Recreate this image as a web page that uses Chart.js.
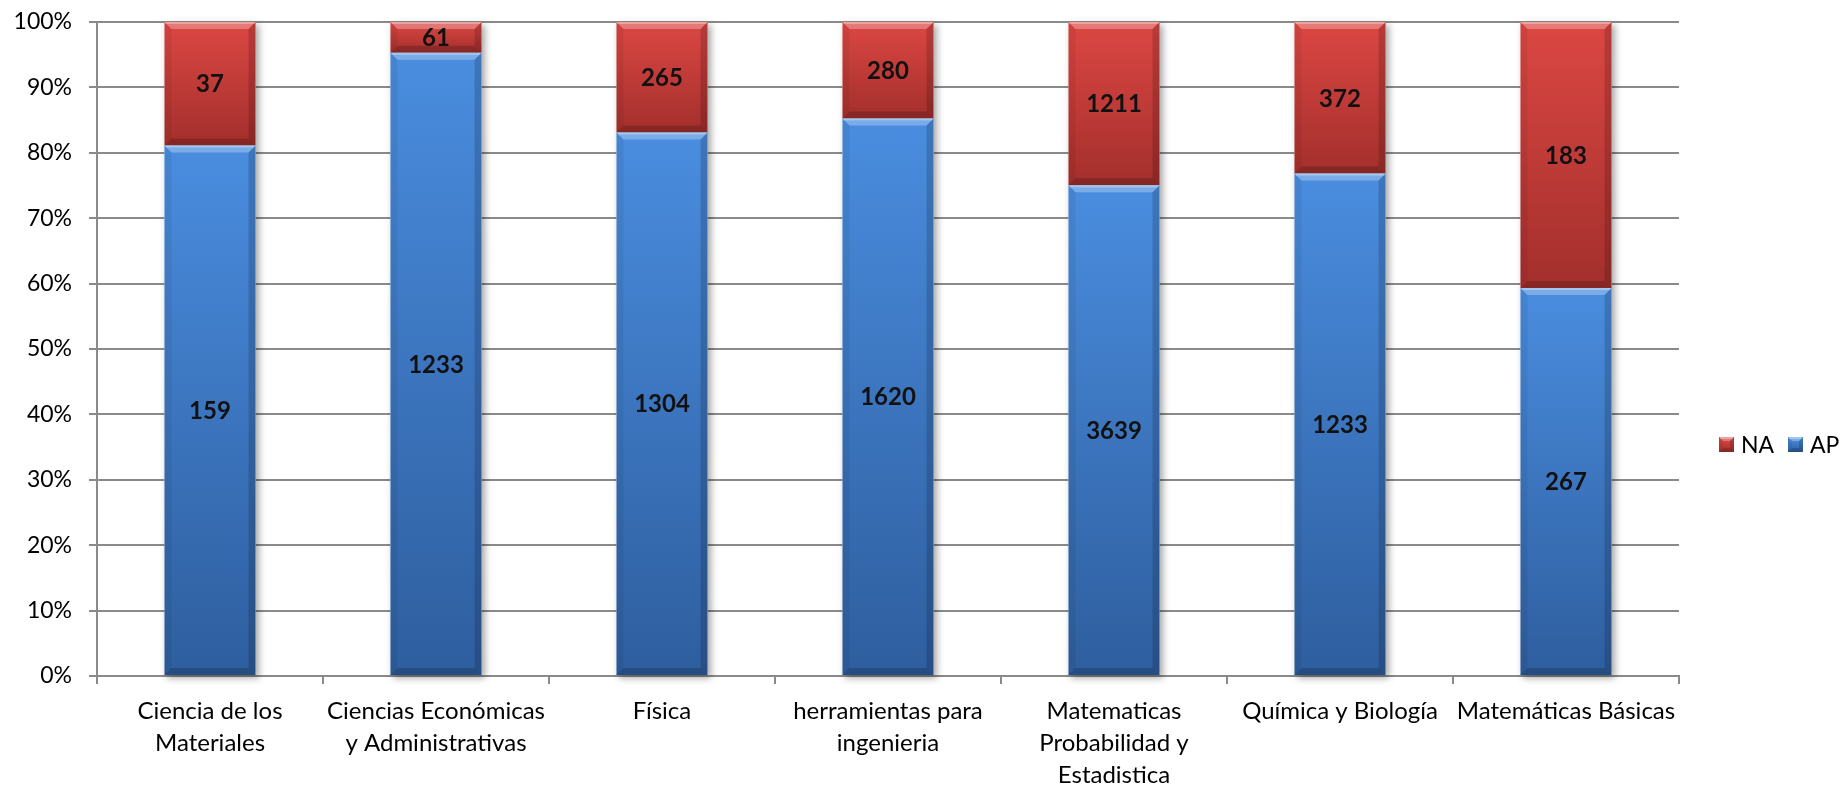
<!DOCTYPE html>
<html>
<head>
<meta charset="utf-8">
<script src="https://cdn.jsdelivr.net/npm/chart.js@4.4.1/dist/chart.umd.min.js"></script>
<style>
  body { margin: 0; background: #fff; }
  #wrap { width: 1843px; height: 787px; }
</style>
</head>
<body>
<div id="wrap"><canvas id="myChart"></canvas></div>
<script>
// categories (multi-line labels as in the original)
let categories = [
    ['Ciencia de los', 'Materiales'],
    ['Ciencias Económicas', 'y Administrativas'],
    ['Física'],
    ['herramientas para', 'ingenieria'],
    ['Matematicas', 'Probabilidad y', 'Estadistica'],
    ['Química y Biología'],
    ['Matemáticas Básicas']
];
// counts shown as labels
let ap_counts = [159, 1233, 1304, 1620, 3639, 1233, 267];
let na_counts = [37, 61, 265, 280, 1211, 372, 183];
let y_ticks = [0, 10, 20, 30, 40, 50, 60, 70, 80, 90, 100];

// stacked 100% -> share of each count
let ap_pct = ap_counts.map((v, i) => v / (v + na_counts[i]) * 100);
let na_pct = na_counts.map((v, i) => v / (ap_counts[i] + v) * 100);

const FONT = 'Lato, "Open Sans", sans-serif';

function segGradient(ctx, top, bottom) {
    let chart = ctx.chart;
    let y = chart.scales.y;
    if (!chart.chartArea || !y) return top;
    let dsi = ctx.datasetIndex, i = ctx.dataIndex;
    let start = dsi == 0 ? 0 : ap_pct[i];
    let end = dsi == 0 ? ap_pct[i] : 100;
    let y0 = y.getPixelForValue(end), y1 = y.getPixelForValue(start);
    if (!isFinite(y0) || !isFinite(y1) || y0 == y1) return top;
    let g = chart.ctx.createLinearGradient(0, y0, 0, y1);
    g.addColorStop(0, top);
    g.addColorStop(1, bottom);
    return g;
}

// shadow behind each stacked bar
const shadowPlugin = {
    id: 'shadowPlugin',
    beforeDatasetsDraw(chart) {
        let c = chart.ctx;
        let ap = chart.getDatasetMeta(0).data;
        let na = chart.getDatasetMeta(1).data;
        c.save();
        c.shadowColor = 'rgba(0,0,0,0.35)';
        c.shadowBlur = 7;
        c.shadowOffsetX = 3;
        c.shadowOffsetY = 3;
        c.fillStyle = '#ffffff';
        ap.forEach((el, i) => {
            let top = na[i].y, bottom = el.base;
            c.fillRect(el.x - el.width / 2, top, el.width, bottom - top);
        });
        c.restore();
    }
};

function bevel(c, left, top, right, bottom, b) {
    c.fillStyle = 'rgba(255,255,255,0.28)';
    c.beginPath();
    c.moveTo(left, top); c.lineTo(right, top); c.lineTo(right - b, top + b); c.lineTo(left + b, top + b);
    c.closePath(); c.fill();
    c.fillStyle = 'rgba(255,255,255,0.3)';
    c.fillRect(left + 1, top, right - left - 2, 2);
    c.fillStyle = 'rgba(0,0,0,0.06)';
    c.beginPath();
    c.moveTo(left, top); c.lineTo(left + b, top + b); c.lineTo(left + b, bottom - b); c.lineTo(left, bottom);
    c.closePath(); c.fill();
    c.fillStyle = 'rgba(0,0,0,0.16)';
    c.beginPath();
    c.moveTo(right, top); c.lineTo(right - b, top + b); c.lineTo(right - b, bottom - b); c.lineTo(right, bottom);
    c.closePath(); c.fill();
    c.fillStyle = 'rgba(0,0,0,0.18)';
    c.beginPath();
    c.moveTo(left, bottom); c.lineTo(left + b, bottom - b); c.lineTo(right - b, bottom - b); c.lineTo(right, bottom);
    c.closePath(); c.fill();
}

// bevel overlay, labels and legend
const decoPlugin = {
    id: 'decoPlugin',
    afterDatasetsDraw(chart) {
        let c = chart.ctx;
        c.save();
        [0, 1].forEach(d => {
            chart.getDatasetMeta(d).data.forEach(el => {
                let left = el.x - el.width / 2, right = el.x + el.width / 2;
                let top = Math.min(el.y, el.base), bottom = Math.max(el.y, el.base);
                bevel(c, left, top, right, bottom, 7);
            });
        });
        c.font = 'bold 24px ' + FONT;
        c.fillStyle = '#111';
        c.textAlign = 'center';
        c.textBaseline = 'middle';
        let counts = [ap_counts, na_counts];
        [0, 1].forEach(d => {
            chart.getDatasetMeta(d).data.forEach((el, i) => {
                c.fillText(counts[d][i], el.x, (el.y + el.base) / 2 + 1);
            });
        });

        // legend: NA then AP, side by side
        let items = [
            { text: 'NA', x: 1719, top: '#de4a46', bottom: '#a5302d' },
            { text: 'AP', x: 1788, top: '#4f92e3', bottom: '#2d5f9f' }
        ];
        c.font = '23px ' + FONT;
        c.textAlign = 'left';
        c.fillStyle = '#000';
        items.forEach(it => {
            let g = c.createLinearGradient(0, 437, 0, 452);
            g.addColorStop(0, it.top);
            g.addColorStop(1, it.bottom);
            c.fillStyle = g;
            c.fillRect(it.x, 437, 15, 15);
            bevel(c, it.x, 437, it.x + 15, 452, 4);
            c.fillStyle = '#000';
            c.fillText(it.text, it.x + 22, 446);
        });
        c.restore();
    }
};

let ctx = document.getElementById('myChart').getContext('2d');
let myChart = new Chart(ctx, {
    type: 'bar',
    data: {
        labels: categories,
        datasets: [{
            label: 'AP',
            data: ap_pct,
            backgroundColor: c => segGradient(c, '#4a8ddf', '#2e5e9e'),
            borderWidth: 0,
            barPercentage: 0.403,
            categoryPercentage: 1
        }, {
            label: 'NA',
            data: na_pct,
            backgroundColor: c => segGradient(c, '#dc4743', '#a32f2c'),
            borderWidth: 0,
            barPercentage: 0.403,
            categoryPercentage: 1
        }]
    },
    options: {
        responsive: true,
        maintainAspectRatio: false,
        animation: false,
        layout: { padding: { top: 22, right: 164, left: 0, bottom: 0 } },
        plugins: {
            legend: { display: false },
            tooltip: { enabled: false }
        },
        scales: {
            x: {
                stacked: true,
                afterFit: s => { s.height = 111; s.paddingLeft = 0; s.paddingRight = 0; },
                grid: { display: true, drawOnChartArea: false, offset: true, tickLength: 8, color: '#8a8a8a', lineWidth: 2 },
                border: { color: '#8a8a8a', width: 2 },
                ticks: {
                    color: '#000',
                    padding: 11,
                    maxRotation: 0,
                    autoSkip: false,
                    font: { family: FONT, size: 24, lineHeight: 1.33 }
                }
            },
            y: {
                stacked: true,
                min: 0,
                max: 100,
                afterFit: s => { s.width = 97; s.paddingTop = 0; s.paddingBottom = 0; },
                afterBuildTicks: s => { s.ticks = y_ticks.map(v => ({ value: v })); },
                grid: { color: '#8a8a8a', lineWidth: 2, tickLength: 8 },
                border: { color: '#8a8a8a', width: 2 },
                ticks: {
                    color: '#000',
                    padding: 17,
                    font: { family: FONT, size: 23 },
                    callback: v => v + '%'
                }
            }
        }
    },
    plugins: [shadowPlugin, decoPlugin]
});
</script>
</body>
</html>
